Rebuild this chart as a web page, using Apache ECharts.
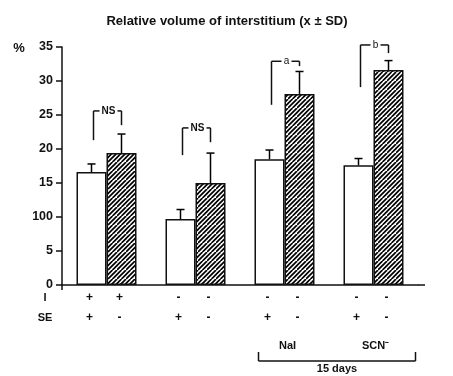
<!DOCTYPE html>
<html>
<head>
<meta charset="utf-8">
<script src="https://cdn.jsdelivr.net/npm/echarts@6/dist/echarts.min.js"></script>
<style>
  html, body { margin: 0; padding: 0; background: #fff; }
  #chart { width: 453px; height: 376px; }
</style>
</head>
<body>
<div id="chart"></div>
<script>
// data
var groups = ['1', '2', '3', '4'];
var controlMean = [16.6, 9.7, 18.5, 17.6];
var controlSD = [1.2, 1.4, 1.35, 1.0];
var treatedMean = [19.4, 15.0, 28.1, 31.6];
var treatedSD = [2.8, 4.4, 3.3, 1.4];
var yTickLabels = ['0', '5', '100', '15', '20', '25', '30', '35'];
var rowI = ['+', '+', '-', '-', '-', '-', '-', '-'];
var rowSE = ['+', '-', '+', '-', '+', '-', '+', '-'];
// significance brackets: label, left foot, top, right foot (in % units)
var sigLabels = ['NS', 'NS', 'a', 'b'];
var sigLeft = [21.3, 19.1, 26.5, 29.1];
var sigTop = [25.6, 23.1, 32.9, 35.3];
var sigRight = [23.5, 21.0, 32.2, 34.1];

var FONT = 'Liberation Sans, Arial, sans-serif';

// hatch pattern "////"
function hatch() {
    var c = document.createElement('canvas');
    var s = 9;
    c.width = s; c.height = s;
    var g = c.getContext('2d');
    g.fillStyle = '#fff';
    g.fillRect(0, 0, s, s);
    g.strokeStyle = '#000';
    g.lineWidth = 1.7;
    for (var k = -1; k <= 2; k++) {
        g.beginPath();
        g.moveTo(k * s / 2 - s / 2, s);
        g.lineTo(k * s / 2 + s / 2, 0);
        g.stroke();
    }
    return c;
}

function errorSeries(means, sds, offset) {
    var d = means.map(function (m, i) { return [i, m, sds[i]]; });
    return {
        type: 'custom',
        data: d,
        z: 5,
        silent: true,
        renderItem: function (params, api) {
            var base = api.coord([api.value(0), api.value(1)]);
            var top = api.coord([api.value(0), api.value(1) + api.value(2)]);
            var x = base[0] + offset;
            var st = { stroke: '#000', lineWidth: 1.5 };
            return {
                type: 'group',
                children: [
                    { type: 'line', shape: { x1: x, y1: base[1], x2: x, y2: top[1] }, style: st },
                    { type: 'line', shape: { x1: x - 4, y1: top[1], x2: x + 4, y2: top[1] }, style: st }
                ]
            };
        }
    };
}

var chart = echarts.init(document.getElementById('chart'));
var option = {
    animation: false,
    title: {
        text: 'Relative volume of interstitium (x \u00b1 SD)',
        left: 222,
        top: 10,
        textAlign: 'center',
        textStyle: { fontFamily: FONT, fontSize: 13, fontWeight: 'bold', color: '#111' }
    },
    grid: { left: 62, width: 356, top: 47, bottom: 91 },
    xAxis: {
        type: 'category',
        data: groups,
        axisLine: { lineStyle: { color: '#111', width: 1.5 } },
        axisTick: { show: false },
        axisLabel: { show: false }
    },
    yAxis: {
        type: 'value',
        min: 0,
        max: 35,
        interval: 5,
        splitLine: { show: false },
        axisLine: { show: true, lineStyle: { color: '#111', width: 1.5 } },
        axisTick: { show: true, length: 6, lineStyle: { color: '#111', width: 1.5 } },
        axisLabel: {
            margin: 9,
            fontFamily: FONT,
            fontSize: 12.5,
            fontWeight: 'bold',
            color: '#111',
            formatter: function (v) { return yTickLabels[Math.round(v / 5)]; }
        }
    },
    series: [
        {
            type: 'bar',
            data: controlMean,
            barWidth: 30,
            barGap: '0%',
            itemStyle: { color: '#fff', borderColor: '#111', borderWidth: 1.5 }
        },
        {
            type: 'bar',
            data: treatedMean,
            barWidth: 30,
            barGap: '0%',
            itemStyle: { color: { image: hatch(), repeat: 'repeat' }, borderColor: '#111', borderWidth: 1.5 }
        },
        errorSeries(controlMean, controlSD, -15),
        errorSeries(treatedMean, treatedSD, 15)
    ]
};
chart.setOption(option);

// annotations placed from the axes
var gfx = [];
var lineStyle = { stroke: '#111', lineWidth: 1.5 };
function txt(x, y, s, size, weight) {
    gfx.push({
        type: 'text', x: x, y: y,
        style: { text: s, fontFamily: FONT, fontSize: size, fontWeight: weight || 'bold',
                 fill: '#111', align: 'center', verticalAlign: 'middle' }
    });
}
function seg(x1, y1, x2, y2) {
    gfx.push({ type: 'line', shape: { x1: x1, y1: y1, x2: x2, y2: y2 }, style: lineStyle });
}
function py(v) { return chart.convertToPixel({ yAxisIndex: 0 }, v); }

var y0 = py(0);
var xEnd = chart.convertToPixel({ xAxisIndex: 0 }, 3) + 44.5;
var xAx = chart.convertToPixel({ xAxisIndex: 0 }, 0) - 44.5;
seg(xEnd, y0, xEnd + 7, y0);
seg(xAx, y0, xAx, y0 + 5);

txt(19, 48, '%', 13);
txt(45, 298, 'I', 11);
txt(45, 318, 'SE', 11);

groups.forEach(function (g, i) {
    var c = chart.convertToPixel({ xAxisIndex: 0 }, i);
    var xs = [c - 15, c + 15];
    for (var k = 0; k < 2; k++) {
        txt(xs[k] - 2, 298, rowI[i * 2 + k], 12);
        txt(xs[k] - 2, 318, rowSE[i * 2 + k], 12);
    }
    // significance bracket
    var xl = xs[0] + 2, xr = xs[1];
    var yt = py(sigTop[i]);
    var mid = (xl + xr) / 2 + 1;
    var half = sigLabels[i] === 'NS' ? 8 : 4;
    seg(xl, py(sigLeft[i]), xl, yt);
    seg(xl, yt, mid - half - 1, yt);
    seg(mid + half + 1, yt, xr, yt);
    seg(xr, yt, xr, py(sigRight[i]));
    txt(mid, yt, sigLabels[i], 10, sigLabels[i] === 'NS' ? 'bold' : 'normal');
});

// 15 days bracket under the two last groups
var c3 = chart.convertToPixel({ xAxisIndex: 0 }, 2);
var c4 = chart.convertToPixel({ xAxisIndex: 0 }, 3);
txt(c3 + 3, 346, 'NaI', 11);
txt(c4 + 2, 346, 'SCN\u207b', 11);
seg(c3 - 26, 361, c4 + 42, 361);
seg(c3 - 26, 352, c3 - 26, 361);
seg(c4 + 42, 352, c4 + 42, 361);
txt((c3 + c4) / 2 + 8, 369, '15 days', 11);

chart.setOption({ graphic: gfx });
</script>
</body>
</html>
